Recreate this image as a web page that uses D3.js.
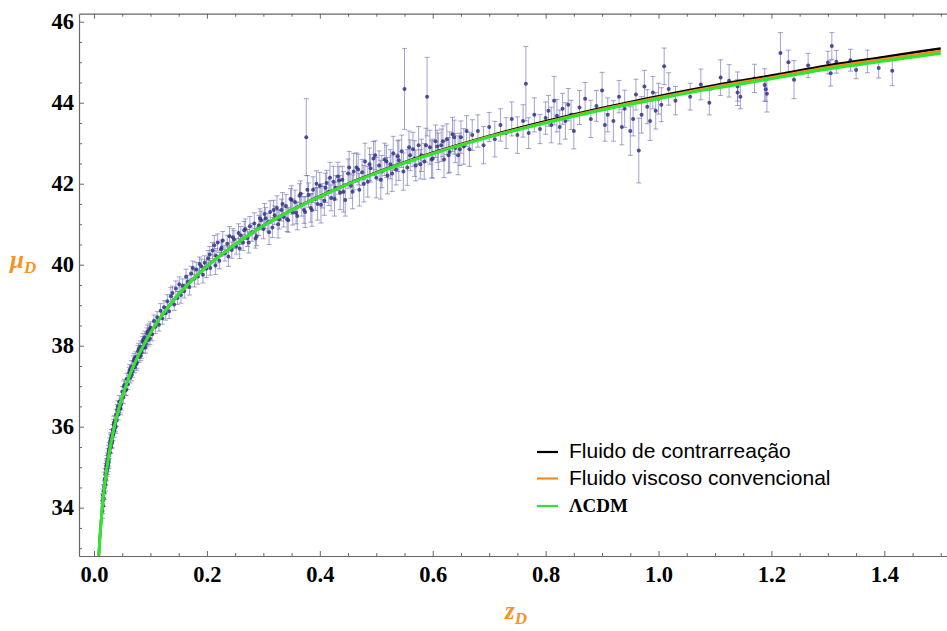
<!DOCTYPE html>
<html><head><meta charset="utf-8">
<script src="https://cdn.jsdelivr.net/npm/d3@7"></script>
<style>
html,body{margin:0;padding:0;background:#fff;}
svg{display:block;}
</style>
</head><body>
<svg id="chart" width="947" height="631"></svg>
<script>
// ---------- data ----------
const xTicks = [0.0, 0.2, 0.4, 0.6, 0.8, 1.0, 1.2, 1.4];
const yTicks = [34, 36, 38, 40, 42, 44, 46];

const legendLabels = ["Fluido de contrarreação", "Fluido viscoso convencional", "ΛCDM"];
const legendColors = ["#000000", "#f7891f", "#2fe62f"];

// model curves
const zCurve = [0.0085,0.01,0.012,0.015,0.02,0.025,0.03,0.04,0.05,0.06,0.07,0.08,0.09,0.1,0.12,0.15,0.2,0.25,0.3,0.35,0.4,0.45,0.5,0.6,0.7,0.8,0.9,1.0,1.1,1.2,1.3,1.4,1.5];
const muLCDM = [32.82,33.18,33.57,34.06,34.70,35.18,35.59,36.24,36.74,37.15,37.50,37.80,38.07,38.32,38.74,39.27,39.96,40.50,40.96,41.34,41.68,41.99,42.26,42.74,43.15,43.50,43.82,44.10,44.36,44.59,44.83,45.03,45.22];
const muViscous = [32.82,33.18,33.57,34.06,34.70,35.18,35.59,36.24,36.74,37.15,37.50,37.80,38.07,38.32,38.74,39.27,39.96,40.50,40.963,41.345,41.685,41.995,42.268,42.751,43.165,43.52,43.845,44.13,44.395,44.63,44.875,45.08,45.28];
const muCounter = [32.82,33.18,33.57,34.06,34.70,35.18,35.59,36.24,36.74,37.15,37.50,37.80,38.07,38.32,38.74,39.27,39.96,40.50,40.965,41.35,41.69,42.00,42.275,42.762,43.18,43.54,43.87,44.16,44.43,44.67,44.92,45.13,45.34];

// supernova data: redshift, distance modulus, error
const snZ = [
0.015,0.015,0.016,0.016,0.017,0.017,0.018,0.018,0.019,0.019,
0.020,0.020,0.021,0.021,0.022,0.022,0.023,0.023,0.024,0.024,
0.025,0.025,0.026,0.026,0.027,0.028,0.028,0.029,0.030,0.030,
0.031,0.032,0.033,0.034,0.035,0.036,0.037,0.038,0.039,0.040,
0.041,0.043,0.045,0.046,0.048,0.050,0.052,0.054,0.056,0.058,
0.060,0.062,0.064,0.066,0.068,0.070,0.072,0.074,0.076,0.078,
0.080,0.082,0.084,0.086,0.088,0.090,0.092,0.094,0.096,0.098,
0.022,0.026,0.029,0.032,0.035,0.038,0.042,0.047,0.053,0.057,
0.063,0.067,0.071,0.075,0.079,0.083,0.087,0.091,0.095,0.099,
0.100,0.103,0.106,0.109,0.112,0.115,0.118,0.121,0.124,0.127,
0.130,0.133,0.136,0.139,0.142,0.145,0.148,0.151,0.154,0.157,
0.160,0.163,0.166,0.169,0.172,0.175,0.178,0.181,0.184,0.187,
0.190,0.193,0.196,0.199,0.202,0.206,0.210,0.213,0.216,0.219,
0.222,0.225,0.228,0.232,0.236,0.240,0.244,0.248,0.252,0.256,
0.260,0.264,0.268,0.272,0.276,0.280,0.284,0.288,0.292,0.296,
0.300,0.304,0.308,0.312,0.316,0.320,0.324,0.328,0.332,0.336,
0.205,0.215,0.226,0.238,0.246,0.258,0.266,0.274,0.286,0.294,
0.302,0.310,0.318,0.326,0.334,0.342,0.350,0.358,0.366,0.374,
0.340,0.344,0.348,0.352,0.356,0.360,0.364,0.368,0.372,0.376,
0.380,0.384,0.388,0.392,0.396,0.400,0.404,0.408,0.412,0.416,
0.420,0.424,0.428,0.432,0.436,0.440,0.445,0.450,0.455,0.460,
0.378,0.386,0.394,0.402,0.410,0.418,0.426,0.434,0.442,0.452,
0.465,0.470,0.475,0.480,0.485,0.490,0.495,0.500,0.505,0.510,
0.458,0.468,0.478,0.488,0.498,0.508,0.518,0.528,0.538,0.548,
0.515,0.520,0.525,0.530,0.535,0.540,0.545,0.550,0.555,0.560,
0.565,0.570,0.575,0.580,0.585,0.590,0.595,0.600,0.605,0.610,
0.558,0.568,0.578,0.588,0.598,0.608,0.618,0.628,0.638,0.648,
0.615,0.620,0.625,0.630,0.635,0.640,0.645,0.650,0.655,0.660,
0.665,0.670,0.680,0.690,0.700,0.710,0.720,0.730,0.740,0.750,
0.760,0.765,0.770,0.780,0.790,0.800,0.805,0.810,0.815,0.820,
0.825,0.830,0.835,0.840,0.845,0.850,0.860,0.870,0.880,0.890,
0.900,0.905,0.910,0.920,0.930,0.935,0.940,0.950,0.955,0.960,
0.965,0.970,0.975,0.980,0.985,0.990,0.995,1.000,1.005,1.010,
1.018,1.030,1.056,1.075,1.090,1.110,1.125,1.140,1.140,1.145,
1.170,1.188,1.190,1.192,1.216,1.230,1.240,1.265,1.300,1.305,
1.307,1.315,1.340,1.350,1.370,1.390,1.414
];
const snMu = [
33.92,34.18,34.05,34.31,34.40,34.22,34.52,34.38,34.49,34.71,
34.82,34.58,34.71,34.95,34.84,35.02,34.93,35.12,35.20,34.98,
35.31,35.05,35.40,35.18,35.46,35.37,35.58,35.49,35.72,35.51,
35.79,35.64,35.92,35.81,36.04,35.90,36.14,36.02,36.30,36.15,
36.41,36.30,36.62,36.47,36.55,36.86,36.72,37.03,36.90,37.18,
37.05,37.33,37.21,37.48,37.36,37.62,37.47,37.72,37.58,37.86,
37.72,37.98,37.84,38.10,37.95,38.21,38.05,38.30,38.14,38.40,
35.05,35.12,35.65,35.60,36.10,35.98,36.50,36.45,37.00,36.92,
37.40,37.28,37.68,37.55,37.92,37.76,38.15,37.96,38.35,38.18,
38.45,38.28,38.61,38.47,38.70,38.52,38.86,38.68,38.95,38.80,
39.10,38.85,39.22,39.30,39.02,39.41,39.18,39.52,39.25,39.48,
39.35,39.70,39.58,39.45,39.78,39.92,39.66,39.88,39.71,40.02,
39.96,39.75,40.05,39.90,40.16,39.92,40.35,40.48,40.22,40.55,
40.10,40.38,40.60,40.28,40.52,40.70,40.36,40.62,40.45,40.78,
40.72,40.55,40.88,40.66,40.95,40.80,41.02,40.70,40.97,41.10,
40.88,41.15,41.05,41.30,40.92,41.22,41.40,41.12,41.35,41.18,
40.25,39.98,40.42,40.20,40.68,40.40,40.85,40.55,40.65,41.15,
41.25,40.80,41.35,41.00,41.50,41.12,41.60,41.28,41.75,41.30,
41.45,41.10,41.62,41.30,41.55,41.20,41.70,41.48,41.35,43.15,
41.72,41.40,41.85,41.62,41.50,41.95,41.70,41.58,42.02,41.80,
41.65,42.05,41.90,42.18,41.78,42.10,41.60,42.25,41.95,42.30,
41.85,41.35,42.00,41.48,41.90,42.15,41.62,42.08,41.80,42.40,
42.40,41.85,42.28,42.55,42.05,42.38,42.62,42.15,42.45,42.30,
41.80,42.35,42.00,42.48,42.70,42.10,42.55,42.25,42.68,42.30,
42.60,42.20,42.48,42.75,42.35,42.58,42.80,44.34,42.40,42.70,
42.85,42.45,42.95,42.70,42.55,44.15,42.90,42.62,43.05,42.80,
42.90,42.62,42.48,42.95,42.60,42.92,43.05,42.70,43.15,42.85,
42.95,42.60,43.10,42.78,43.22,42.88,42.70,43.15,42.92,43.30,
42.85,43.20,43.30,42.95,43.40,43.10,43.45,43.25,43.60,43.20,
43.55,44.47,43.25,43.70,43.35,43.62,43.80,43.45,44.05,43.68,
43.40,43.85,43.55,43.95,43.70,43.30,43.88,44.10,43.60,43.92,
44.30,43.45,43.70,43.55,44.15,43.40,43.85,43.30,43.60,44.20,
42.82,43.70,44.40,43.90,43.55,44.25,43.80,44.10,43.95,44.90,
44.34,44.05,44.15,44.45,44.00,44.62,44.54,44.25,44.40,44.15,
44.60,44.44,44.33,44.22,45.23,45.00,44.57,44.92,44.99,44.73,
45.40,45.01,45.05,44.81,45.02,44.86,44.79
];
const snErr = [
.18,.16,.20,.15,.17,.19,.16,.18,.15,.17,
.15,.17,.16,.14,.18,.15,.16,.17,.15,.16,
.15,.16,.14,.17,.15,.16,.14,.15,.14,.16,
.14,.15,.13,.15,.14,.16,.14,.15,.13,.14,
.14,.13,.15,.13,.14,.13,.15,.14,.13,.14,
.13,.14,.13,.15,.14,.13,.14,.13,.15,.14,
.13,.14,.15,.13,.14,.15,.13,.14,.15,.14,
.16,.15,.17,.14,.16,.15,.14,.16,.13,.15,
.14,.15,.13,.16,.14,.13,.15,.14,.16,.15,
.14,.16,.15,.17,.14,.16,.18,.15,.16,.17,
.16,.18,.22,.17,.15,.19,.16,.18,.20,.17,
.17,.19,.16,.20,.18,.17,.21,.18,.19,.17,
.18,.20,.17,.22,.19,.18,.20,.24,.18,.21,
.20,.18,.22,.19,.21,.24,.20,.22,.19,.23,
.22,.20,.25,.21,.24,.22,.26,.23,.25,.22,
.24,.26,.22,.28,.25,.23,.30,.24,.27,.25,
.20,.22,.19,.24,.21,.25,.22,.26,.24,.23,
.26,.30,.24,.34,.28,.30,.35,.27,.32,.38,
.28,.30,.26,.32,.29,.34,.30,.28,.33,.95,
.30,.35,.32,.28,.40,.33,.30,.36,.31,.34,
.32,.38,.30,.35,.42,.33,.40,.36,.31,.45,
.35,.40,.32,.45,.36,.38,.42,.34,.50,.40,
.36,.40,.32,.45,.38,.34,.42,.50,.36,.40,
.42,.38,.45,.40,.36,.48,.40,.44,.38,.46,
.40,.45,.36,.42,.38,.50,.40,1.00,.44,.38,
.42,.38,.46,.40,.44,.97,.42,.48,.40,.45,
.40,.44,.36,.42,.46,.40,.38,.44,.42,.40,
.40,.45,.38,.50,.42,.36,.48,.40,.44,.38,
.42,.38,.40,.46,.36,.44,.40,.38,.42,.45,
.40,.92,.38,.42,.36,.40,.38,.44,.60,.40,
.42,.38,.45,.40,.36,.44,.42,.40,.46,.38,
.45,.40,.42,.50,.40,.44,.46,.60,.42,.38,
.80,.45,.40,.42,.48,.40,.45,.38,.42,.45,
.40,.35,.33,.38,.30,.44,.40,.32,.36,.30,
.35,.40,.30,.45,.50,.30,.47,.30,.28,.32,
.33,.28,.27,.22,.28,.25,.37
];

// ---------- chart ----------
const svg = d3.select("#chart");
const L = 79, R = 947, T = 13.7, B = 556;
const x = d3.scaleLinear().domain([-0.0266, 1.511]).range([L, R]);
const y = d3.scaleLinear().domain([32.807, 46.198]).range([B, T]);

svg.append("defs").append("clipPath").attr("id","plotclip")
  .append("rect").attr("x",L).attr("y",T).attr("width",R-L).attr("height",B-T);

const xMinor = d3.range(0, 1.52, 0.05).map(v => +v.toFixed(2)).filter(v => !xTicks.some(t => Math.abs(t-v)<1e-6));
const yMinor = d3.range(33, 46.2, 0.5).filter(v => !yTicks.includes(v));

const axisColor = "#666";
const serif = "'Liberation Serif','Times New Roman',serif";

function styleAxis(g){
  g.selectAll(".domain").attr("stroke", axisColor).attr("stroke-width",1.2);
  g.selectAll(".tick line").attr("stroke", axisColor);
  g.selectAll(".tick text").attr("fill","#000").style("font-family",serif).style("font-weight","bold");
}

// bottom axis
svg.append("g").attr("transform",`translate(0,${B})`)
  .call(d3.axisBottom(x).tickValues(xTicks).tickFormat(d3.format(".1f")).tickSize(-5).tickSizeOuter(0).tickPadding(10))
  .call(styleAxis).call(g=>g.selectAll("text").style("font-size","22.5px"));
svg.append("g").attr("transform",`translate(0,${B})`)
  .call(d3.axisBottom(x).tickValues(xMinor).tickFormat("").tickSize(-3).tickSizeOuter(0))
  .call(styleAxis).call(g=>g.select(".domain").remove());
// top axis
svg.append("g").attr("transform",`translate(0,${T})`)
  .call(d3.axisTop(x).tickValues(xTicks).tickFormat("").tickSize(-5).tickSizeOuter(0))
  .call(styleAxis);
svg.append("g").attr("transform",`translate(0,${T})`)
  .call(d3.axisTop(x).tickValues(xMinor).tickFormat("").tickSize(-3).tickSizeOuter(0))
  .call(styleAxis).call(g=>g.select(".domain").remove());
// left axis
svg.append("g").attr("transform",`translate(${L},0)`)
  .call(d3.axisLeft(y).tickValues(yTicks).tickFormat(d3.format("d")).tickSize(-5).tickSizeOuter(0).tickPadding(5))
  .call(styleAxis).call(g=>g.selectAll("text").style("font-size","22.5px"));
svg.append("g").attr("transform",`translate(${L},0)`)
  .call(d3.axisLeft(y).tickValues(yMinor).tickFormat("").tickSize(-3).tickSizeOuter(0))
  .call(styleAxis).call(g=>g.select(".domain").remove());

// data with error bars
const sn = snZ.map((z,i)=>({z, mu:snMu[i], e:snErr[i]}));
const dataG = svg.append("g").attr("clip-path","url(#plotclip)");
const bars = dataG.append("g").attr("stroke","#6a6ab2").attr("stroke-opacity",0.62).attr("stroke-width",1);
bars.selectAll("line.v").data(sn).join("line").attr("class","v")
  .attr("x1",d=>x(d.z)).attr("x2",d=>x(d.z))
  .attr("y1",d=>y(d.mu-d.e)).attr("y2",d=>y(d.mu+d.e));
bars.selectAll("line.t").data(sn).join("line").attr("class","t")
  .attr("x1",d=>x(d.z)-2.5).attr("x2",d=>x(d.z)+2.5)
  .attr("y1",d=>y(d.mu+d.e)).attr("y2",d=>y(d.mu+d.e));
bars.selectAll("line.b").data(sn).join("line").attr("class","b")
  .attr("x1",d=>x(d.z)-2.5).attr("x2",d=>x(d.z)+2.5)
  .attr("y1",d=>y(d.mu-d.e)).attr("y2",d=>y(d.mu-d.e));
dataG.append("g").selectAll("circle").data(sn).join("circle")
  .attr("cx",d=>x(d.z)).attr("cy",d=>y(d.mu)).attr("r",2)
  .attr("fill","#32328a").attr("fill-opacity",0.85);

// model curves
const line = d3.line().x(d=>x(d[0])).y(d=>y(d[1])).curve(d3.curveMonotoneX);
const curveG = svg.append("g").attr("clip-path","url(#plotclip)").attr("fill","none");
[[muCounter,legendColors[0],2.6],[muViscous,legendColors[1],2.6],[muLCDM,legendColors[2],3]].forEach(([arr,c,w])=>{
  curveG.append("path").datum(zCurve.map((z,i)=>[z,arr[i]]))
    .attr("d",line).attr("stroke",c).attr("stroke-width",w).attr("stroke-linejoin","round");
});

// legend
const legY = [452, 478.5, 506];
const leg = svg.append("g");
legendLabels.forEach((lab,i)=>{
  leg.append("line").attr("x1",537).attr("x2",558).attr("y1",legY[i]).attr("y2",legY[i])
    .attr("stroke",legendColors[i]).attr("stroke-width",2.2);
  const t = leg.append("text").attr("x",569).attr("y",legY[i]+6).text(lab).attr("fill","#000");
  if(i<2) t.style("font-family","'Liberation Sans',Arial,sans-serif").style("font-size","21px");
  else t.style("font-family",serif).style("font-weight","bold").style("font-size","19px");
});

// axis titles
const orange = "#f7931e";
const yt = svg.append("text").attr("x",10).attr("y",268).attr("fill",orange)
  .style("font-family",serif).style("font-weight","bold").style("font-style","italic").style("font-size","25px");
yt.append("tspan").text("μ");
yt.append("tspan").text("D").attr("dy",5).style("font-size","17px");
const xt = svg.append("text").attr("x",505).attr("y",619).attr("fill",orange)
  .style("font-family",serif).style("font-weight","bold").style("font-style","italic").style("font-size","25px");
xt.append("tspan").text("z");
xt.append("tspan").text("D").attr("dy",5).style("font-size","17px");
</script>
</body></html>
